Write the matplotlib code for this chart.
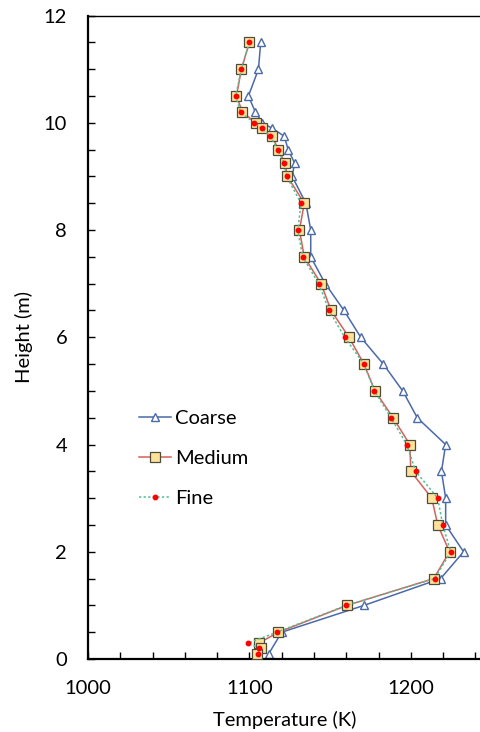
import matplotlib
matplotlib.use("Agg")
import matplotlib.pyplot as plt
from matplotlib.ticker import MultipleLocator

plt.rcParams["font.family"] = ["Lato", "DejaVu Sans"]

# heights (m) and temperatures (K)
H_COARSE = [11.5, 11.0, 10.5, 10.2, 10.0, 9.9, 9.75, 9.5, 9.25, 9.0, 8.5, 8.0, 7.5, 7.0,
            6.5, 6.0, 5.5, 5.0, 4.5, 4.0, 3.5, 3.0, 2.5, 2.0, 1.5, 1.0, 0.5, 0.1]
T_COARSE = [1107, 1105.6, 1099.4, 1103.7, 1108, 1114, 1121.6, 1124, 1128, 1126.5, 1135,
            1138, 1138, 1147, 1158.6, 1169, 1183, 1195, 1204, 1221.6, 1219, 1221.6,
            1221.6, 1232.7, 1218.5, 1171, 1120, 1112]

H_MEDIUM = [11.5, 11.0, 10.5, 10.2, 10.0, 9.9, 9.75, 9.5, 9.25, 9.0, 8.5, 8.0, 7.5, 7.0,
            6.5, 6.0, 5.5, 5.0, 4.5, 4.0, 3.5, 3.0, 2.5, 2.0, 1.5, 1.0, 0.5, 0.3, 0.2, 0.1]
T_MEDIUM = [1100, 1095, 1092, 1095.7, 1104, 1108, 1114, 1118, 1122, 1123.5, 1134, 1131,
            1134, 1144.4, 1150.6, 1161.7, 1171, 1177.8, 1189, 1199.4, 1200, 1213,
            1216.7, 1224, 1214.2, 1160.5, 1118, 1106, 1107, 1105]

H_FINE = [11.5, 11.0, 10.5, 10.2, 10.0, 9.9, 9.75, 9.5, 9.25, 9.0, 8.5, 8.0, 7.5, 7.0,
          6.5, 6.0, 5.5, 5.0, 4.5, 4.0, 3.5, 3.0, 2.5, 2.0, 1.5, 1.0, 0.5, 0.3, 0.2, 0.1]
T_FINE = [1100, 1095, 1091.5, 1094.5, 1103, 1107.5, 1113, 1117.5, 1121.5, 1123, 1132,
          1130, 1133, 1143, 1149.4, 1159, 1171, 1177.5, 1187.7, 1197.5, 1203, 1216.7,
          1219.8, 1224.7, 1214.8, 1160, 1117, 1099.4, 1106, 1105.6]

fig = plt.figure(figsize=(4.81, 7.32), dpi=100)
ax = fig.add_axes([0.183, 0.0997, 0.817, 0.879])

ax.plot(T_COARSE, H_COARSE, color="#4a6aa8", lw=1.1, marker="^", ms=5.5,
        mfc="white", mec="#4a6aa8", mew=1.0, label="Coarse", zorder=2)
ax.plot(T_MEDIUM, H_MEDIUM, color="#d85f5a", lw=1.1, marker="s", ms=6.5,
        mfc="#ffe29a", mec="#4d4d3a", mew=0.9, label="Medium", zorder=3)
ax.plot(T_FINE, H_FINE, color="#4fbf95", lw=1.1, ls=(0, (1.5, 1.5)), marker="o", ms=3.2,
        mfc="#ff0000", mec="#ff0000", label="Fine", zorder=4)

ax.set_xlim(1000, 1243.5)
ax.set_ylim(0, 12)
ax.xaxis.set_major_locator(MultipleLocator(100))
ax.xaxis.set_minor_locator(MultipleLocator(20))
ax.yaxis.set_major_locator(MultipleLocator(2))
ax.yaxis.set_minor_locator(MultipleLocator(0.5))
ax.tick_params(which="both", direction="in", length=4.8, width=1.0, color="black",
               labelsize=14.5, top=False, right=False)
ax.tick_params(axis="y", pad=15)
ax.tick_params(axis="x", pad=15)

for side in ("left", "bottom"):
    ax.spines[side].set_linewidth(1.6)
ax.spines["top"].set_linewidth(1.0)
ax.spines["right"].set_visible(False)

ax.set_xlabel("Temperature (K)", fontsize=14.5, labelpad=10)
ax.set_ylabel("Height (m)", fontsize=14.5, labelpad=8)

ax.legend(loc="upper left", bbox_to_anchor=(0.108, 0.399), frameon=False, fontsize=14.5,
          handlelength=1.6, handletextpad=0.2, labelspacing=1.12, borderaxespad=0)

fig.savefig("out.png", dpi=100)
